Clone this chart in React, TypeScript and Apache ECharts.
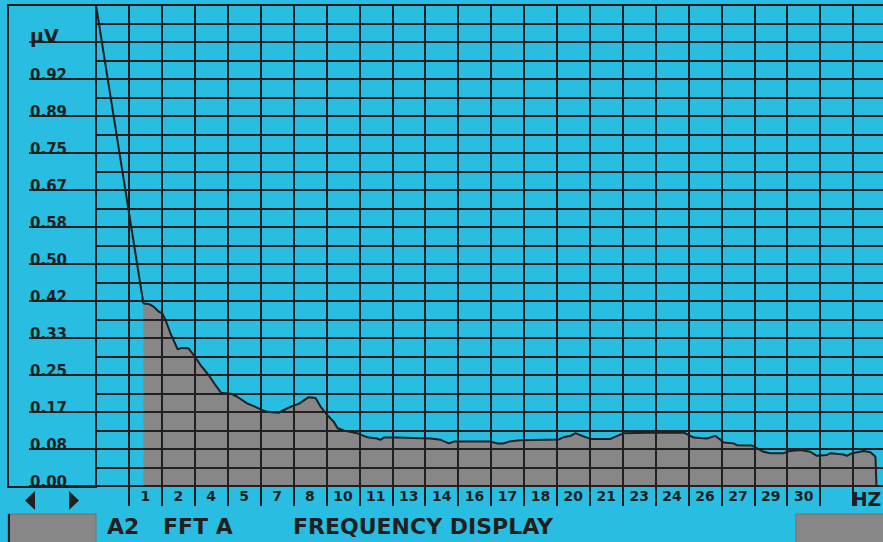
import React, { useEffect, useRef } from "react";
import * as echarts from "echarts";

// Frequency bin labels (one per column of the display grid)
const freqLabels = ["", "1", "2", "4", "5", "7", "8", "10", "11", "13", "14", "16", "17", "18", "20", "21", "23", "24", "26", "27", "29", "30", "", "HZ"];
// Amplitude tick labels (µV), from bottom to top
const ampLabels = ["0.00", "0.08", "0.17", "0.25", "0.33", "0.42", "0.50", "0.58", "0.67", "0.75", "0.89", "0.92", "µV", ""];

// Leading sweep line (column position, µV)
const leadBins = [0, 1.44];
const leadAmplitude = [1.083, 0.411];

// Spectrum trace (column position, µV)
const bins = [1.44, 1.60, 1.75, 1.90, 2.01, 2.11, 2.26, 2.48, 2.61, 2.81, 2.97, 3.17, 3.42, 3.63, 3.80, 4.13, 4.29, 4.59, 4.79, 5.05, 5.20, 5.55, 5.81, 5.96, 6.16, 6.36, 6.46, 6.67, 6.82, 7.02, 7.22, 7.34, 7.53, 7.93, 8.13, 8.29, 8.54, 8.64, 8.74, 9.15, 10.16, 10.47, 10.72, 10.87, 11.98, 12.19, 12.39, 12.59, 12.90, 14.06, 14.21, 14.42, 14.57, 14.77, 15.02, 15.63, 15.84, 16.04, 16.75, 17.86, 18.16, 18.56, 18.81, 18.97, 19.07, 19.37, 19.47, 19.93, 20.28, 20.49, 20.89, 21.09, 21.40, 21.70, 21.90, 22.21, 22.31, 22.71, 22.81, 22.97, 23.32, 23.53, 23.68, 23.71];
const amplitude = [0.411, 0.410, 0.404, 0.393, 0.389, 0.374, 0.344, 0.308, 0.311, 0.310, 0.295, 0.273, 0.250, 0.227, 0.210, 0.207, 0.201, 0.186, 0.180, 0.171, 0.167, 0.165, 0.175, 0.180, 0.185, 0.195, 0.200, 0.198, 0.179, 0.160, 0.145, 0.130, 0.125, 0.119, 0.113, 0.109, 0.107, 0.104, 0.109, 0.109, 0.107, 0.104, 0.096, 0.100, 0.100, 0.096, 0.096, 0.101, 0.103, 0.105, 0.110, 0.113, 0.119, 0.113, 0.106, 0.106, 0.113, 0.119, 0.120, 0.120, 0.109, 0.107, 0.113, 0.104, 0.098, 0.096, 0.092, 0.091, 0.077, 0.074, 0.074, 0.079, 0.081, 0.077, 0.068, 0.070, 0.074, 0.071, 0.068, 0.074, 0.079, 0.076, 0.066, 0];

const footerTexts = ["A2", "FFT A", "FREQUENCY DISPLAY"];

const INK = "#231f20";
const CYAN = "#28bde1";
const GRAY = "#878787";
const FONT = "DejaVu Sans";

export default function App() {
  const ref = useRef<HTMLDivElement>(null);
  useEffect(() => {
    const chart = echarts.init(ref.current!, null, { renderer: "svg" });
    const step = 1 / 12;
    const option: any = {
      animation: false,
      backgroundColor: CYAN,
      grid: { left: 96, top: 5, width: 790, height: 481, containLabel: false },
      xAxis: [
        {
          type: "category",
          data: freqLabels,
          boundaryGap: true,
          axisLine: { show: true, lineStyle: { color: INK, width: 2 } },
          axisTick: { show: true, length: 20, interval: (i: number) => i > 0, lineStyle: { color: INK, width: 2 } },
          axisLabel: {
            interval: 0,
            margin: 3,
            color: INK,
            fontFamily: FONT,
            fontWeight: "bold",
            fontSize: 14,
            formatter: (v: string) => (v === "HZ" ? "{hz|HZ}" : v),
            rich: { hz: { fontFamily: FONT, fontWeight: "bold", fontSize: 19, color: INK, padding: [0, 6, 0, 0] } },
          },
          splitLine: { show: true, interval: 0, lineStyle: { color: INK, width: 2 } },
        },
        { type: "value", min: 0, max: 24, show: false },
      ],
      yAxis: {
        type: "value",
        min: 0,
        max: 13 * step,
        interval: step,
        axisLine: { show: true, lineStyle: { color: INK, width: 2 } },
        axisTick: { show: true, length: 67, lineStyle: { color: INK, width: 2 } },
        axisLabel: {
          margin: 66,
          align: "left",
          verticalAlign: "bottom",
          lineHeight: 8,
          color: INK,
          fontFamily: FONT,
          fontWeight: "bold",
          fontSize: 15,
          formatter: (v: number) => {
            const i = Math.round(v * 12);
            const s = ampLabels[i] ?? "";
            return s === "µV" ? "{u|µV}" : s;
          },
          rich: { u: { fontFamily: FONT, fontWeight: "bold", fontSize: 19, lineHeight: 12, color: INK } },
        },
        splitLine: { show: true, lineStyle: { color: INK, width: 2 } },
        minorTick: { show: false, splitNumber: 2 },
        minorSplitLine: { show: true, lineStyle: { color: INK, width: 2 } },
      },
      series: [
        {
          type: "line",
          xAxisIndex: 1,
          z: -1,
          data: bins.map((b, i) => [b, amplitude[i]]),
          showSymbol: false,
          lineStyle: { color: INK, width: 2 },
          areaStyle: { color: GRAY, opacity: 1 },
        },
        {
          type: "line",
          xAxisIndex: 1,
          z: 3,
          data: leadBins.map((b, i) => [b, leadAmplitude[i]]),
          showSymbol: false,
          lineStyle: { color: INK, width: 2 },
        },
      ],
      graphic: [
        { type: "rect", shape: { x: 8, y: 5, width: 88, height: 482 }, style: { fill: "none", stroke: INK, lineWidth: 2 } },
        { type: "polygon", shape: { points: [[35, 491], [35, 510], [25, 500.5]] }, style: { fill: INK } },
        { type: "polygon", shape: { points: [[69, 491], [69, 510], [79, 500.5]] }, style: { fill: INK } },
        { type: "rect", shape: { x: 8, y: 514, width: 88, height: 30 }, style: { fill: GRAY, stroke: "#707070", lineWidth: 1 } },
        { type: "line", shape: { x1: 9, y1: 514, x2: 9, y2: 542 }, style: { stroke: INK, lineWidth: 2 } },
        { type: "rect", shape: { x: 796, y: 514, width: 94, height: 30 }, style: { fill: GRAY, stroke: "#707070", lineWidth: 1 } },
        ...footerTexts.map((t, i) => ({
          type: "text",
          x: [107, 163, 293][i],
          y: 526,
          style: { text: t, fill: INK, font: `bold 22px "${FONT}"`, verticalAlign: "middle", align: "left" },
        })),
      ],
    };
    chart.setOption(option);
    return () => chart.dispose();
  }, []);
  return <div ref={ref} style={{ position: "fixed", left: 0, top: 0, width: 890, height: 542 }} />;
}
